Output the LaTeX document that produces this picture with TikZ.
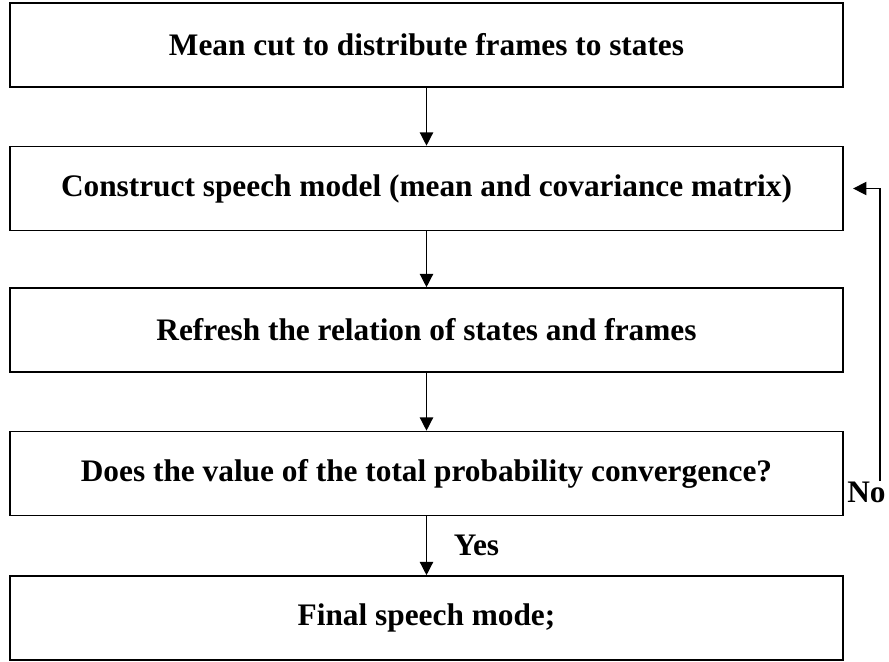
\documentclass[tikz,border=0pt]{standalone}
\usepackage{fontspec}
\setmainfont{Liberation Serif}
\usetikzlibrary{arrows.meta}
\begin{document}
\begin{tikzpicture}[x=0.75pt,y=-0.75pt,
	stepbox/.style={draw, line width=1.2pt, minimum width=624.75pt, minimum height=63pt, inner sep=0pt, font=\fontsize{23.5}{28}\selectfont\bfseries},
	flow/.style={line width=1pt, -{Triangle[length=10pt,width=10pt]}},
	lbl/.style={font=\fontsize{23.5}{28}\selectfont\bfseries, inner sep=0pt}]
		\useasboundingbox (0,0) rectangle (889,661);
		\node[stepbox] (cut) at (426.5,45) {Mean cut to distribute frames to states};
		\node[stepbox] (model) at (426.5,188.5) {Construct speech model (mean and covariance matrix)};
		\node[stepbox] (refresh) at (426.5,330) {Refresh the relation of states and frames};
		\node[stepbox] (conv) at (426.5,473.5) {Does the value of the total probability convergence?};
		\node[stepbox] (final) at (426.5,618) {Final speech mode;};
		\draw[flow] (cut) -- (model);
		\draw[flow] (model) -- (refresh);
		\draw[flow] (refresh) -- (conv);
		\draw[flow] (conv) -- node[lbl, right, xshift=20pt] (yes) {Yes} (final);
		\node[lbl, anchor=west] (no) at (847,492) {No};
		\coordinate (loop) at (880,481);
		\draw[flow, shorten >=7pt] (loop) |- (model);
\end{tikzpicture}
\end{document}
